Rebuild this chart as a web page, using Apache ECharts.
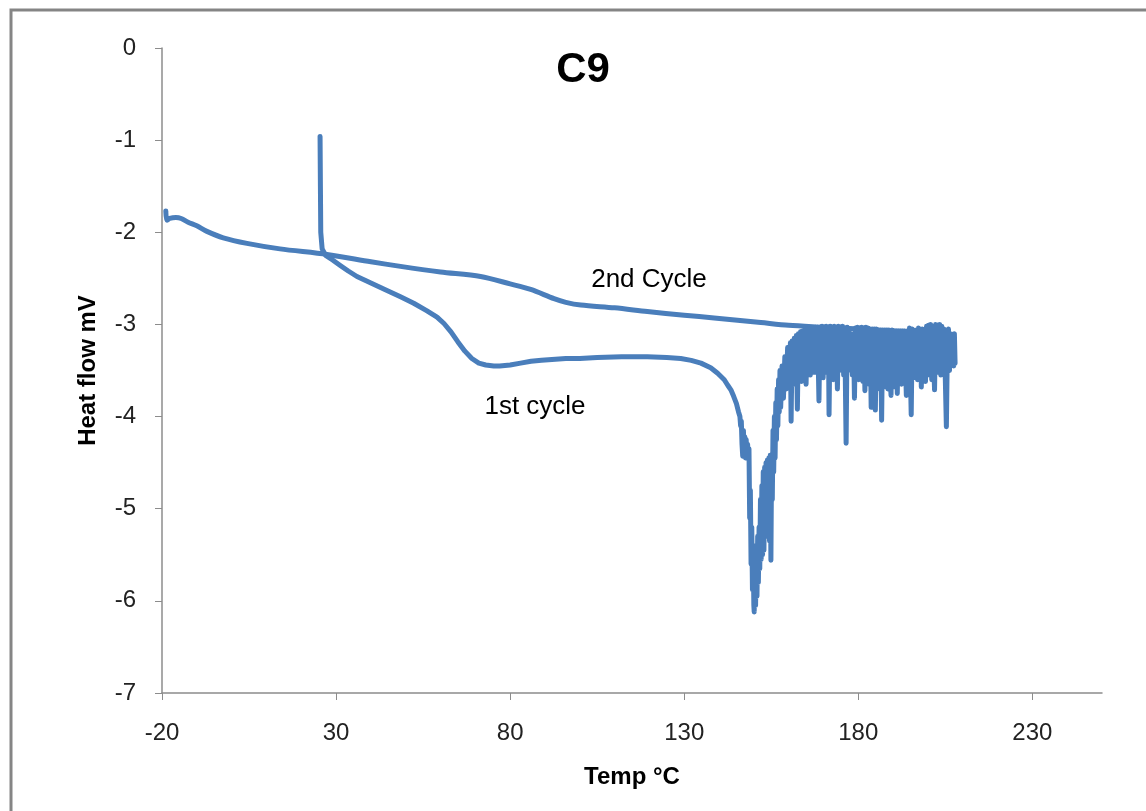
<!DOCTYPE html>
<html>
<head>
<meta charset="utf-8">
<title>C9</title>
<script src="https://cdn.jsdelivr.net/npm/echarts@6/dist/echarts.min.js"></script>
<style>
  html, body { margin: 0; padding: 0; background: #ffffff; }
  #chart { width: 1146px; height: 811px; }
</style>
</head>
<body>
<div id="chart"></div>
<script>
// DSC run of sample C9: heat flow (mV) against temperature (°C)

// First heating run (temperatures and readings listed line for line)
const temp1 = [
  25.4, 25.5, 25.6, 26.0, 27.0, 29.0, 31.2, 33.5, 36.0, 40.0, 44.0, 48.5, 52.3, 56.0, 59.0,
  61.0, 63.0, 65.0, 67.0, 69.0, 71.0, 73.0, 75.3, 77.0, 80.0, 83.0, 86.0, 89.0, 92.0, 96.0,
  100.0, 105.0, 112.0, 119.4, 125.0, 129.0, 132.0, 134.8, 137.6, 139.6,
  141.5, 142.0, 142.5, 143.0, 143.4, 143.8, 144.2, 144.6, 145.0, 145.3, 145.6,
  146.0, 146.2, 146.4, 146.6, 146.8, 147.0, 147.2, 147.4, 147.6, 147.8, 148.0, 148.2,
  148.4, 148.6, 148.8, 149.0, 149.2, 149.4, 149.6, 149.8, 150.0, 150.1, 150.3, 150.5,
  150.7, 150.9, 151.1, 151.3, 151.5, 151.7, 151.9, 152.1, 152.3, 152.5, 152.7, 152.9,
  153.1, 153.3, 153.5, 153.7, 153.9, 154.1, 154.3, 154.5, 154.7, 154.9, 155.1, 155.3,
  155.5, 155.7, 155.9, 156.1, 156.3, 156.5, 156.7, 156.9, 157.1, 157.3, 157.5, 157.7,
  158.1, 158.5, 158.9, 159.3, 159.7, 160.1, 160.5, 160.7,
  161.0, 161.3, 161.6, 161.9, 162.2, 162.5, 162.8, 163.1, 163.4, 163.7, 164.0, 164.3,
  164.6, 165.0, 165.3, 165.6, 165.9, 166.2, 166.5, 166.8, 167.1, 167.4, 167.7, 168.0,
  168.3, 168.7, 169.0, 169.3, 169.6, 169.9, 170.2, 170.5, 170.8, 171.1, 171.4, 171.6,
  171.9, 172.2, 172.5, 172.8, 173.1, 173.4, 173.7, 174.0, 174.3, 174.6, 174.9, 175.2,
  175.5, 175.8, 176.1, 176.5, 176.8, 177.1, 177.4, 177.7, 178.0, 178.3, 178.6, 178.9,
  179.2, 179.5, 179.8, 180.1, 180.4, 180.7, 181.0, 181.3, 181.6, 181.9, 182.2, 182.5,
  182.8, 183.1, 183.4, 183.7, 184.0, 184.3, 184.6, 184.9, 185.2, 185.5, 185.8, 186.1,
  186.4, 186.7, 187.0, 187.3, 187.6, 187.9, 188.2, 188.5, 188.8, 189.1, 189.4, 189.7,
  190.0, 190.3, 190.6, 190.9, 191.2, 191.5, 191.8, 192.1, 192.4, 192.7, 193.0, 193.3,
  193.8, 194.1, 194.4, 194.7, 195.2, 195.5, 195.8, 196.1, 196.4, 196.7, 197.0, 197.3,
  197.6, 197.9, 198.1, 198.4, 198.7, 199.0, 199.3, 199.6, 199.9, 200.2, 200.5, 200.8,
  201.1, 201.4, 201.9, 202.2, 202.5, 202.8, 203.1, 203.4, 203.7, 204.0, 204.3, 204.6,
  205.0, 205.3, 205.6, 205.9, 206.2, 206.5, 206.8, 207.1, 207.4, 207.6, 207.8
];
const flow1 = [
  -0.96, -1.50, -2.00, -2.18, -2.25, -2.30, -2.36, -2.42, -2.48, -2.55, -2.62, -2.70, -2.77, -2.85, -2.92,
  -2.99, -3.08, -3.19, -3.29, -3.37, -3.42, -3.44, -3.45, -3.45, -3.44, -3.42, -3.40, -3.39, -3.38, -3.37,
  -3.37, -3.36, -3.35, -3.35, -3.36, -3.37, -3.39, -3.42, -3.47, -3.53,
  -3.60, -3.63, -3.66, -3.68, -3.71, -3.70, -3.78, -3.76, -3.86, -3.84, -3.95,
  -4.00, -4.10, -4.05, -4.30, -4.43, -4.15, -4.40, -4.22, -4.45, -4.25, -4.42, -4.30,
  -4.46, -4.35, -5.10, -4.80, -5.60, -5.20, -5.88, -5.40, -6.05, -6.12, -5.55, -6.05,
  -5.40, -5.95, -5.30, -5.80, -5.20, -5.65, -4.90, -5.55, -4.75, -5.50, -4.60, -5.45,
  -4.55, -5.30, -4.50, -5.20, -4.47, -5.10, -4.45, -5.35, -4.42, -5.56, -4.42, -4.90,
  -4.15, -4.60, -4.00, -4.45, -3.85, -4.25, -3.70, -4.10, -3.60, -3.95, -3.50, -3.90,
  -3.45, -3.80, -3.35, -3.70, -3.25, -3.60, -3.20, -4.05,
  -3.18, -3.65, -3.15, -3.60, -3.12, -3.92, -3.10, -3.55, -3.08, -3.62, -3.07, -3.50,
  -3.06, -3.65, -3.05, -3.48, -3.05, -3.55, -3.04, -3.45, -3.04, -3.52, -3.03, -3.45,
  -3.03, -3.83, -3.03, -3.50, -3.02, -3.58, -3.03, -3.46, -3.02, -3.52, -3.03, -3.98,
  -3.02, -3.48, -3.03, -3.60, -3.02, -3.45, -3.03, -3.70, -3.02, -3.50, -3.03, -3.45,
  -3.02, -3.55, -3.05, -4.29, -3.03, -3.50, -3.08, -3.45, -3.12, -3.55, -3.10, -3.80,
  -3.04, -3.50, -3.03, -3.60, -3.04, -3.48, -3.03, -3.62, -3.04, -3.72, -3.03, -3.52,
  -3.04, -3.65, -3.05, -3.90, -3.05, -3.60, -3.05, -3.93, -3.05, -3.70, -3.06, -3.62,
  -3.06, -4.04, -3.06, -3.68, -3.06, -3.55, -3.06, -3.70, -3.06, -3.50, -3.77, -3.06,
  -3.60, -3.07, -3.68, -3.07, -3.75, -3.07, -3.55, -3.07, -3.65, -3.07, -3.50, -3.07,
  -3.77, -3.07, -3.55, -3.04, -3.98, -3.05, -3.58, -3.10, -3.48, -3.06, -3.60, -3.04,
  -3.50, -3.10, -3.68, -3.05, -3.52, -3.08, -3.62, -3.02, -3.55, -3.01, -3.48, -3.00,
  -3.60, -3.02, -3.71, -3.00, -3.52, -3.01, -3.45, -3.00, -3.55, -3.02, -3.48, -3.05,
  -3.60, -4.11, -3.20, -3.05, -3.50, -3.10, -3.40, -3.12, -3.45, -3.10, -3.42
];

// Second heating run
const temp2 = [
  -18.9, -18.6, -17.8, -16.0, -14.5, -12.5, -10.0, -7.1, -2.4, 4.4, 13.9, 27.4, 40.0, 48.5,
  60.0, 71.5, 80.0, 85.9, 92.6, 96.0, 100.3, 110.0, 119.4, 130.0, 138.6, 152.0, 160.0,
  170.0, 180.0, 190.0, 200.0, 205.0
];
const flow2 = [
  -1.77, -1.87, -1.85, -1.84, -1.85, -1.89, -1.93, -1.99, -2.06, -2.12, -2.18, -2.24, -2.32, -2.37,
  -2.43, -2.48, -2.56, -2.62, -2.72, -2.76, -2.79, -2.82, -2.86, -2.90, -2.93, -2.98, -3.01,
  -3.03, -3.05, -3.07, -3.08, -3.09
];

// Axis tick labels
const tempTicks = [-20, 30, 80, 130, 180, 230];
const flowTicks = [0, -1, -2, -3, -4, -5, -6, -7];

// Series names shown beside the curves
const runNames = ['1st cycle', '2nd Cycle'];

const lineColor = '#4a7ebb';
const axisGray = '#8c8c8c';
const fontFamily = 'Liberation Sans, Arial, sans-serif';

const zip = (xs, ys) => xs.map((x, i) => [x, ys[i]]);

const chart = echarts.init(document.getElementById('chart'), null, { renderer: 'canvas' });

chart.setOption({
  animation: false,
  backgroundColor: '#ffffff',
  grid: { left: 162, top: 48, right: 44, bottom: 118, containLabel: false },
  xAxis: {
    type: 'value',
    min: -20,
    max: 250,
    interval: 50,
    name: 'Temp °C',
    nameLocation: 'middle',
    nameGap: 72,
    nameTextStyle: { fontFamily, fontSize: 24, fontWeight: 'bold', color: '#000' },
    axisLine: { show: true, onZero: false, lineStyle: { color: axisGray, width: 1.5 } },
    axisTick: { show: true, inside: false, length: 7, lineStyle: { color: axisGray }, customValues: tempTicks },
    axisLabel: { fontFamily, fontSize: 24, color: '#222', margin: 28, customValues: tempTicks },
    splitLine: { show: false }
  },
  yAxis: {
    type: 'value',
    min: -7,
    max: 0,
    interval: 1,
    name: 'Heat flow mV',
    nameLocation: 'middle',
    nameGap: 62,
    nameRotate: 90,
    nameTextStyle: { fontFamily, fontSize: 24, fontWeight: 'bold', color: '#000' },
    axisLine: { show: true, onZero: false, lineStyle: { color: axisGray, width: 1.5 } },
    axisTick: { show: true, inside: false, length: 7, lineStyle: { color: axisGray }, customValues: flowTicks },
    axisLabel: { fontFamily, fontSize: 24, color: '#222', margin: 26, customValues: flowTicks },
    splitLine: { show: false }
  },
  series: [
    {
      name: runNames[0],
      type: 'line',
      data: zip(temp1, flow1),
      showSymbol: false,
      smooth: false,
      lineStyle: { color: lineColor, width: 5, join: 'round', cap: 'round' },
      itemStyle: { color: lineColor },
      z: 3
    },
    {
      name: runNames[1],
      type: 'line',
      data: zip(temp2, flow2),
      showSymbol: false,
      smooth: 0.3,
      lineStyle: { color: lineColor, width: 5, join: 'round', cap: 'round' },
      itemStyle: { color: lineColor },
      z: 2
    }
  ],
  graphic: [
    {
      type: 'rect',
      silent: true,
      shape: { x: 11, y: 10, width: 1160, height: 830 },
      style: { fill: 'none', stroke: '#858585', lineWidth: 3 }
    },
    {
      type: 'text',
      silent: true,
      style: {
        text: 'C9', x: 583, y: 70, align: 'center', verticalAlign: 'middle',
        font: 'bold 42px ' + fontFamily, fill: '#000'
      }
    },
    {
      type: 'text',
      silent: true,
      style: {
        text: runNames[1], x: 649, y: 280, align: 'center', verticalAlign: 'middle',
        font: '26px ' + fontFamily, fill: '#000'
      }
    },
    {
      type: 'text',
      silent: true,
      style: {
        text: runNames[0], x: 535, y: 407, align: 'center', verticalAlign: 'middle',
        font: '26px ' + fontFamily, fill: '#000'
      }
    }
  ]
});
</script>
</body>
</html>
